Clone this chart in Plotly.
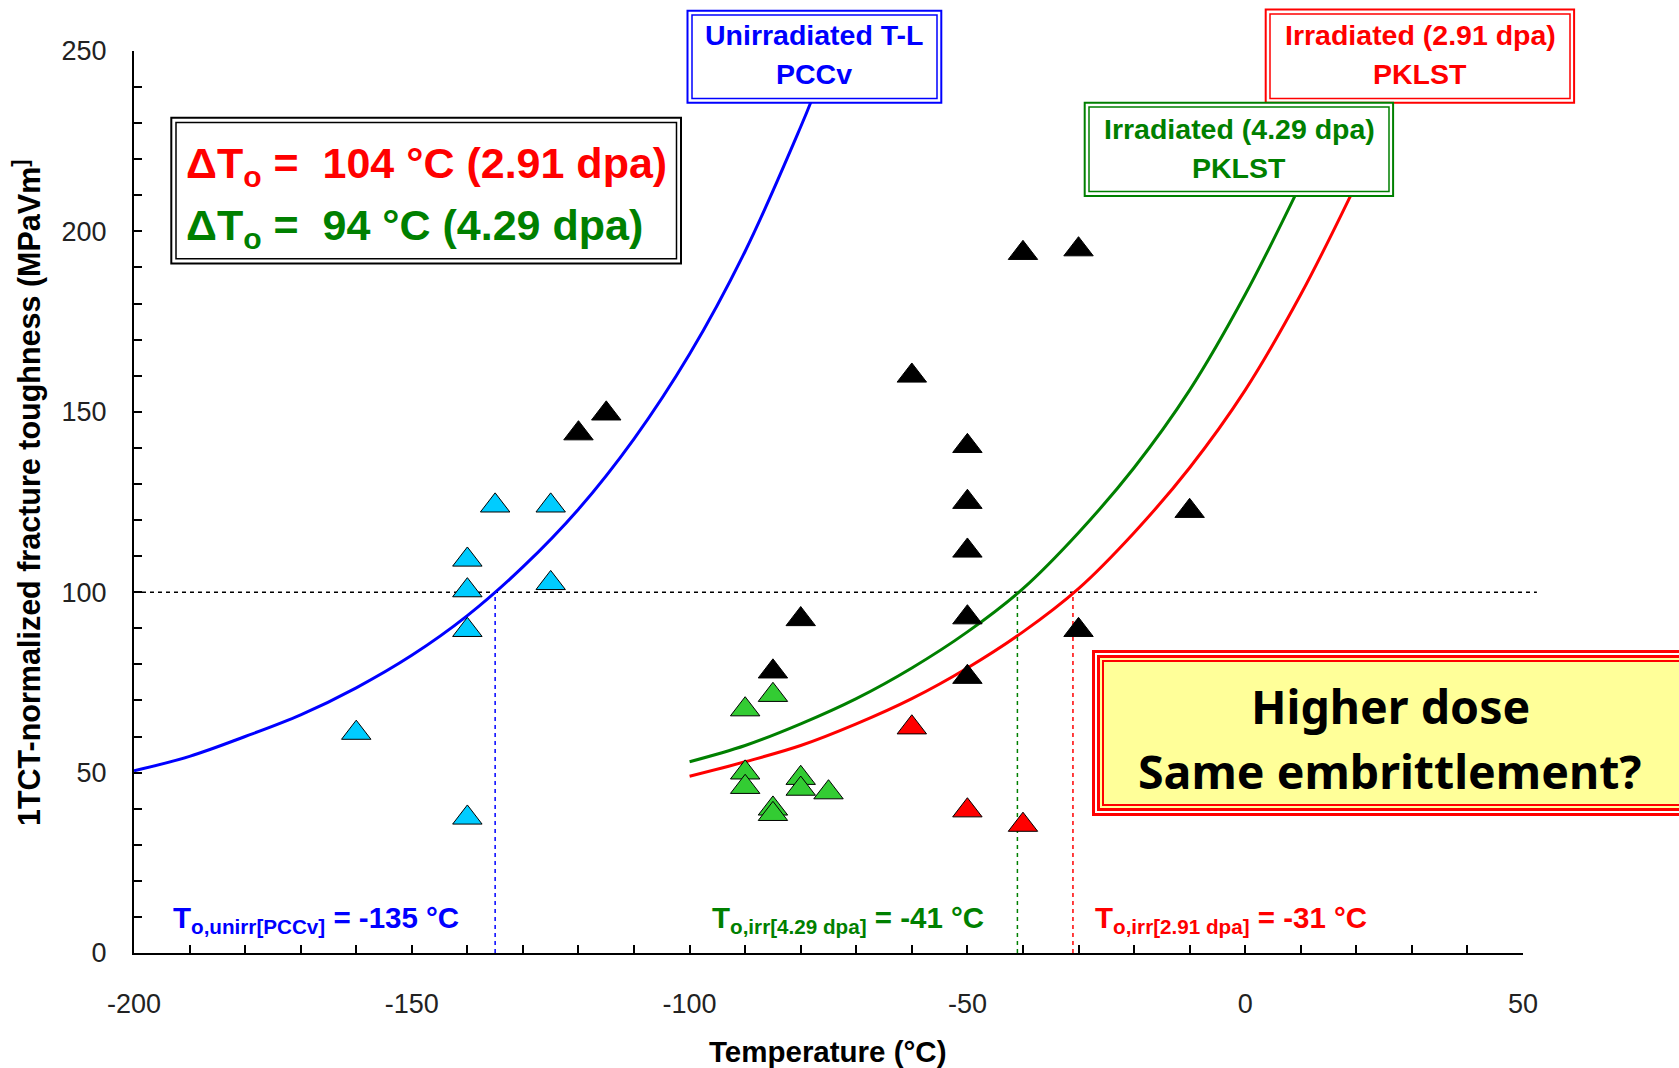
import plotly.graph_objects as go

# ---------------- data ----------------
UNIRR_T = [-160, -140, -140, -140, -140, -135, -125, -125]
UNIRR_K = [61, 37.5, 89.5, 100.5, 109, 124, 124, 102.5]

IRR429_T = [-90, -90, -90, -85, -85, -85, -80, -80, -75]
IRR429_K = [67.5, 50, 46, 71.5, 40, 38.5, 48.5, 45.5, 44.5]

IRR291_T = [-60, -50, -40]
IRR291_K = [62.5, 39.5, 35.5]

OTHER_T = [-120, -115, -85, -80, -60, -50, -50, -50, -50, -50, -40, -30, -30, -10]
OTHER_K = [144, 149.5, 78, 92.5, 160, 140.5, 125, 111.5, 93, 76.5, 194, 195, 89.5, 122.5]

CURVE_UNIRR_T = [-200, -190, -180, -170, -160, -150, -140, -130, -120, -110, -100, -90, -80, -78]
CURVE_UNIRR_K = [50.5, 54.5, 60, 66, 73.5, 82.5, 93.5, 107, 123, 142.5, 166, 194.5, 229, 236.5]

CURVE_429_T = [-100, -90, -80, -70, -60, -50, -40, -30, -20, -10, 0, 9]
CURVE_429_K = [53, 57.5, 63.5, 70.5, 79, 89, 101, 116.5, 134.5, 156, 182.5, 210]

CURVE_291_T = [-100, -90, -80, -70, -60, -50, -40, -30, -20, -10, 0, 10, 19]
CURVE_291_K = [49, 53, 57.5, 63.5, 70.5, 79, 89, 101, 116.5, 134.5, 156, 182.5, 210]

T0_VALUES = [-135, -41, -31]          # unirr PCCv, irr 4.29 dpa, irr 2.91 dpa
K_REF = 100

X_TICK_VALUES = [-200, -150, -100, -50, 0, 50]
X_TICK_LABELS = ["-200", "-150", "-100", "-50", "0", "50"]
Y_TICK_VALUES = [0, 50, 100, 150, 200, 250]
Y_TICK_LABELS = ["0", "50", "100", "150", "200", "250"]

# ---------------- styling / layout helpers ----------------
W, H = 1679, 1068
ML, MR, MT, MB = 134, 156, 51, 115
FONT = "Liberation Sans, Arial, sans-serif"
BOXFONT = "Noto Sans, DejaVu Sans, sans-serif"
BLUE, GREEN, RED = "#0000FF", "#008000", "#FF0000"


def px(X):
    return (X - ML) / (W - ML - MR)


def py(Y):
    return (H - MB - Y) / (H - MT - MB)


def rect(x0, y0, x1, y1, color, width, fill="rgba(0,0,0,0)"):
    return dict(type="rect", xref="paper", yref="paper",
                x0=px(x0), x1=px(x1), y0=py(y1), y1=py(y0),
                line=dict(color=color, width=width), fillcolor=fill, layer="above")


def label(text, X, Y, size, color, family=FONT, xanchor="center", angle=0):
    return dict(text=text, xref="paper", yref="paper", x=px(X), y=py(Y),
                xanchor=xanchor, yanchor="middle", showarrow=False, textangle=angle,
                font=dict(size=size, color=color, family=family))


fig = go.Figure()

# master curves
fig.add_trace(go.Scatter(x=CURVE_UNIRR_T, y=CURVE_UNIRR_K, mode="lines",
                         line=dict(color=BLUE, width=3, shape="spline")))
fig.add_trace(go.Scatter(x=CURVE_429_T, y=CURVE_429_K, mode="lines",
                         line=dict(color=GREEN, width=3, shape="spline")))
fig.add_trace(go.Scatter(x=CURVE_291_T, y=CURVE_291_K, mode="lines",
                         line=dict(color=RED, width=3, shape="spline")))

# T0 vertical dashed lines
for t0, col in zip(T0_VALUES, [BLUE, GREEN, RED]):
    fig.add_trace(go.Scatter(x=[t0, t0], y=[0, K_REF], mode="lines",
                             line=dict(color=col, width=1.5, dash="4px,4px")))

# data points
MK = dict(symbol="triangle-up", size=25.5, line=dict(color="black", width=1))
fig.add_trace(go.Scatter(x=OTHER_T, y=OTHER_K, mode="markers",
                         marker=dict(MK, color="#000000"), cliponaxis=False))
fig.add_trace(go.Scatter(x=UNIRR_T, y=UNIRR_K, mode="markers",
                         marker=dict(MK, color="#00CCFF"), cliponaxis=False))
fig.add_trace(go.Scatter(x=IRR429_T, y=IRR429_K, mode="markers",
                         marker=dict(MK, color="#33CC33"), cliponaxis=False))
fig.add_trace(go.Scatter(x=IRR291_T, y=IRR291_K, mode="markers",
                         marker=dict(MK, color="#FF0000"), cliponaxis=False))

shapes = []
# horizontal reference line at K = 100
shapes.append(dict(type="line", xref="paper", yref="y", x0=0, x1=1.01, y0=K_REF, y1=K_REF,
                   line=dict(color="black", width=1.5, dash="4px,4px"), layer="below"))

# curve label boxes (double borders)
shapes += [rect(687.5, 10.7, 941.3, 102.8, BLUE, 2, "white"),
           rect(692, 15, 937, 98.5, BLUE, 1.5)]
shapes += [rect(1265.7, 9.6, 1574.1, 102.8, RED, 2, "white"),
           rect(1270, 14, 1570, 98.5, RED, 1.5)]
shapes += [rect(1084.7, 102.8, 1393.1, 196, GREEN, 2, "white"),
           rect(1089, 107, 1389, 191.5, GREEN, 1.5)]
# delta T0 box
shapes += [rect(171.3, 117.8, 681, 263.4, "black", 2, "white"),
           rect(176, 122.5, 676.5, 258.7, "black", 1.5)]
# yellow question box with triple red border
yb = (1092, 650, 1700, 816)
for inset, fill in [(0, RED), (3, "white"), (5, RED), (8, "#FFFF99"), (10, RED), (12, "#FFFF99")]:
    shapes.append(rect(yb[0] + inset, yb[1] + inset, yb[2] - inset, yb[3] - inset,
                       "rgba(0,0,0,0)", 0, fill))

NB = "\u00a0"
annotations = [
    label("<b>Unirradiated T-L</b>", 814, 35, 28.5, BLUE),
    label("<b>PCCv</b>", 814, 74, 28.5, BLUE),
    label("<b>Irradiated (2.91 dpa)</b>", 1420, 35, 28.5, RED),
    label("<b>PKLST</b>", 1420, 74, 28.5, RED),
    label("<b>Irradiated (4.29 dpa)</b>", 1239, 128.5, 28.5, GREEN),
    label("<b>PKLST</b>", 1239, 167.5, 28.5, GREEN),
    label(f"<b>ΔT<sub>o</sub> ={NB} 104 °C (2.91 dpa)</b>", 184, 166, 43, RED, xanchor="left"),
    label(f"<b>ΔT<sub>o</sub> ={NB} 94 °C (4.29 dpa)</b>", 184, 228, 43, GREEN, xanchor="left"),
    label("<b>Higher dose</b>", 1390, 706, 46.5, "black", family=BOXFONT),
    label("<b>Same embrittlement?</b>", 1390, 771, 46.5, "black", family=BOXFONT),
    label(f"<b>T<sub>o,unirr[PCCv]</sub> = {T0_VALUES[0]} °C</b>", 171, 919, 29.5, BLUE, xanchor="left"),
    label(f"<b>T<sub>o,irr[4.29 dpa]</sub> = {T0_VALUES[1]} °C</b>", 710, 919, 29.5, GREEN, xanchor="left"),
    label(f"<b>T<sub>o,irr[2.91 dpa]</sub> = {T0_VALUES[2]} °C</b>", 1093, 919, 29.5, RED, xanchor="left"),
    label("<b>1TCT-normalized fracture toughness (MPaVm<sup>]</sup></b>", 27, 493, 30.5, "black", angle=-90),
    label("<b>Temperature (°C)</b>", 827, 1051, 29.5, "black"),
]

axis_common = dict(ticks="inside", ticklen=8, tickwidth=1.5, tickcolor="black",
                   showline=True, linecolor="black", linewidth=2,
                   showgrid=False, zeroline=False,
                   tickfont=dict(size=27, family=FONT, color="#222222"),
                   minor=dict(dtick=10, ticks="inside", ticklen=8, tickwidth=1.5,
                              tickcolor="black", showgrid=False))

fig.update_layout(
    width=W, height=H,
    margin=dict(l=ML, r=MR, t=MT, b=MB, pad=0),
    paper_bgcolor="white", plot_bgcolor="white",
    showlegend=False,
    xaxis=dict(axis_common, range=[-200, 50], tickvals=X_TICK_VALUES, ticktext=X_TICK_LABELS,
               ticklabelstandoff=26),
    yaxis=dict(axis_common, range=[0, 250], tickvals=Y_TICK_VALUES, ticktext=Y_TICK_LABELS,
               ticklabelstandoff=20),
    shapes=shapes,
    annotations=annotations,
)

fig.write_html("out.html", config={"displayModeBar": False},
               post_script="document.body.style.margin='0';")
